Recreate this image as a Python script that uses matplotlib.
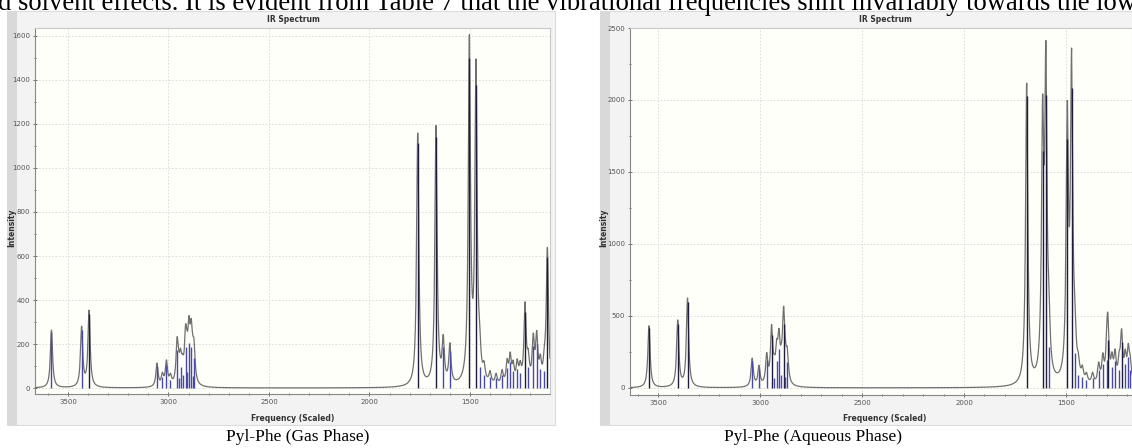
import numpy as np
import matplotlib
matplotlib.use("Agg")
import matplotlib.pyplot as plt
from matplotlib.patches import Rectangle
from matplotlib.ticker import MultipleLocator

# picos (frequencia, intensidade)
gas_freq = [3582, 3432, 3395, 3057, 3030, 3010, 2990, 2957, 2950, 2940, 2930,
            2915, 2908, 2898, 2887, 2880, 2873,
            1760, 1669, 1633, 1600, 1503, 1470, 1452, 1430, 1400, 1370, 1340,
            1315, 1300, 1285, 1265, 1250, 1226, 1210, 1185, 1168, 1150, 1130, 1115]
gas_int = [262, 270, 345, 105, 50, 110, 40, 180, 45, 100, 60,
           190, 75, 210, 190, 55, 140,
           1150, 1175, 190, 175, 1545, 1420, 100, 60, 50, 45, 60,
           95, 120, 80, 90, 70, 355, 100, 195, 205, 90, 80, 615]

aq_freq = [3544, 3403, 3355, 3038, 3005, 2967, 2943, 2930, 2918, 2907, 2895,
           2884, 2875, 2866,
           1693, 1615, 1599, 1584, 1494, 1473, 1457, 1440, 1420, 1400, 1370,
           1340, 1320, 1300, 1295, 1275, 1260, 1240, 1228, 1210, 1195, 1185]
aq_int = [430, 460, 615, 195, 135, 200, 380, 70, 195, 280, 90,
          460, 80, 185,
          2090, 1700, 2100, 290, 1780, 2150, 250, 90, 80, 55, 70,
          130, 170, 200, 340, 150, 190, 130, 330, 170, 220, 130]

gas_ticks = [3500, 3000, 2500, 2000, 1500]
aq_ticks = [3500, 3000, 2500, 2000, 1500]

titulo = "IR Spectrum"
eixo_x = "Frequency (Scaled)"
eixo_y = "Intensity"
legenda_gas = "Pyl-Phe (Gas Phase)"
legenda_aq = "Pyl-Phe (Aqueous Phase)"
texto_topo = ("d solvent effects. It is evident from Table 7 that the vibrational "
              "frequencies shift invariably towards the lower")

W, H = 1132, 448
fig = plt.figure(figsize=(W / 100, H / 100), dpi=100)
fig.patch.set_facecolor("white")


def px(x0, y0, x1, y1):
    # converte pixels (topo-esquerda) para fracao da figura
    return [x0 / W, 1 - y1 / H, (x1 - x0) / W, (y1 - y0) / H]


def moldura(x0, x1):
    fig.patches.append(Rectangle((x0 / W, 1 - 425 / H), (x1 - x0) / W, (425 - 11) / H,
                                 transform=fig.transFigure, facecolor="#f3f3f3",
                                 edgecolor="#dcdcdc", lw=0.8, zorder=-2))
    fig.patches.append(Rectangle((x0 / W, 1 - 425 / H), 10 / W, (425 - 11) / H,
                                 transform=fig.transFigure, facecolor="#d9d9d9",
                                 edgecolor="none", zorder=-1))


def espectro(ax, freq, inten, xlim, ylim, ymaj, ymin, ticks):
    ax.set_facecolor("#fffffa")
    x = np.linspace(xlim[1], xlim[0], 8000)
    y = np.zeros_like(x)
    g = 6.5
    for f, h in zip(freq, inten):
        y += h / (1 + ((x - f) / g) ** 2)
    ax.plot(x, y, color="#707070", lw=0.9, zorder=3)
    for f, h in zip(freq, inten):
        cor = "#1c1c3c" if h > 300 else "#4848a8"
        ax.vlines(f, 0, h * 0.97, color=cor, lw=1.0, zorder=4)
    ax.set_xlim(xlim)
    ax.set_ylim(ylim)
    ax.set_xticks(ticks)
    ax.xaxis.set_minor_locator(MultipleLocator(100))
    ax.yaxis.set_major_locator(MultipleLocator(ymaj))
    ax.yaxis.set_minor_locator(MultipleLocator(ymin))
    ax.tick_params(which="both", direction="inout", labelsize=5, colors="#555555",
                   length=3, width=0.6, pad=2)
    ax.tick_params(which="minor", length=2)
    ax.grid(True, which="major", color="#d8d8d8", lw=0.6, ls=(0, (2, 2)))
    for s in ax.spines.values():
        s.set_color("#c8c8c8")
        s.set_linewidth(0.8)
    ax.spines["left"].set_color("#888888")
    ax.spines["bottom"].set_color("#888888")


# painel esquerdo (gas)
moldura(7, 555)
ax1 = fig.add_axes(px(35, 28, 550, 394))
espectro(ax1, gas_freq, gas_int, (3664, 1102), (-27, 1636), 200, 100, gas_ticks)

# painel direito (aquoso), cortado na borda da imagem
moldura(600, 1140)
ax2 = fig.add_axes(px(630, 28, 1132, 395))
espectro(ax2, aq_freq, aq_int, (3637, 1177), (-49, 2500), 500, 250, aq_ticks)

for cx, ix in [(293, 12), (885, 604)]:
    fig.text(cx / W, 1 - 19 / H, titulo, ha="center", va="center", fontsize=5.5,
             fontweight="bold", color="#333333")
    fig.text(cx / W, 1 - 418 / H, eixo_x, ha="center", va="center", fontsize=5.5,
             fontweight="bold", color="#333333")
    fig.text(ix / W, 1 - 228 / H, eixo_y, ha="center", va="center", fontsize=5.5,
             fontweight="bold", color="#333333", rotation=90)

fig.text(298 / W, 1 - 437 / H, legenda_gas, ha="center", va="center",
         fontsize=12.5, family="Liberation Serif", color="black")
fig.text(813 / W, 1 - 437 / H, legenda_aq, ha="center", va="center",
         fontsize=12.5, family="Liberation Serif", color="black")
fig.text(-2 / W, 1 - 10 / H, texto_topo, ha="left", va="baseline",
         fontsize=19.2, family="Liberation Serif", color="black")

fig.savefig("out.png", dpi=100)
